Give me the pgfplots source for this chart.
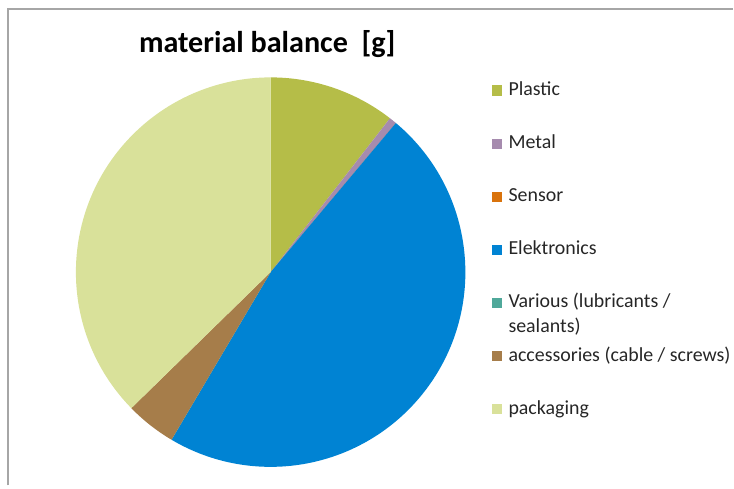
\documentclass[border=0pt]{standalone}
\usepackage{pgfplots}
\pgfplotsset{compat=1.18}
\usepackage{pgfplotstable}
\usepackage{fontspec}
\setmainfont{Carlito}
\definecolor{cPlastic}{RGB}{181,189,72}
\definecolor{cMetal}{RGB}{166,139,174}
\definecolor{cSensor}{RGB}{217,115,13}
\definecolor{cElek}{RGB}{0,131,211}
\definecolor{cVarious}{RGB}{79,168,154}
\definecolor{cAcc}{RGB}{166,125,74}
\definecolor{cPack}{RGB}{217,225,154}
\definecolor{cFrame}{RGB}{166,166,166}
\definecolor{cText}{RGB}{38,38,38}

% share of each material in percent
\pgfplotstableread[col sep=comma]{
name,value,color
Plastic,10.50,cPlastic
Metal,0.62,cMetal
Sensor,0.00,cSensor
Elektronics,47.38,cElek
Various,0.00,cVarious
accessories,4.19,cAcc
packaging,37.31,cPack
}\piedata

\tikzset{lg/.style={anchor=base west, inner sep=0pt, text=cText, font=\fontsize{20}{24.6}\selectfont}}

\begin{document}
\begin{tikzpicture}
\def\cum{0}
\pgfplotsforeachungrouped \i in {0,...,6}{%
  \pgfplotstablegetelem{\i}{value}\of\piedata
  \let\v\pgfplotsretval
  \pgfmathsetmacro\sa{90-3.6*\cum}%
  \pgfmathsetmacro\cum{\cum+\v}%
  \pgfmathsetmacro\ea{90-3.6*\cum}%
  \expandafter\xdef\csname sa\i\endcsname{\sa}%
  \expandafter\xdef\csname ea\i\endcsname{\ea}%
  \pgfplotstablegetelem{\i}{color}\of\piedata
  \expandafter\xdef\csname col\i\endcsname{\pgfplotsretval}%
}
\begin{axis}[
  width=734bp, height=486bp, scale only axis,
  xmin=0, xmax=734, ymin=0, ymax=486,
  hide axis, clip=false,
]
\path (rel axis cs:0,0) rectangle (rel axis cs:1,1);
\draw[cFrame, line width=2bp] (axis cs:7.7,0) -- (axis cs:7.7,477) -- (axis cs:734,477);
\pgfplotsinvokeforeach{0,1,2,3,4,5,6}{
  \fill[fill=\csname col#1\endcsname] (axis cs:271,213.5) -- ([shift={(\csname sa#1\endcsname:195bp)}]axis cs:271,213.5)
     arc[start angle=\csname sa#1\endcsname, end angle=\csname ea#1\endcsname, radius=195bp] -- cycle;
}
\node[anchor=base west, font=\fontsize{30.3}{32}\selectfont\bfseries, text=black, inner sep=0pt] at (axis cs:139,433) {material balance\ \ [g]};
% legend
\pgfplotsinvokeforeach{0,1,2,3,4,5,6}{
  \fill[fill=\csname col#1\endcsname] (axis cs:492.5,{486-90.8-53.15*#1-5.2}) rectangle (axis cs:502.5,{486-90.8-53.15*#1+5.2});
}
\node[lg] at (axis cs:509,{486-95.8}) {Plastic};
\node[lg] at (axis cs:509,{486-95.8-53.15}) {Metal};
\node[lg] at (axis cs:509,{486-95.8-2*53.15}) {Sensor};
\node[lg] at (axis cs:509,{486-95.8-3*53.15}) {Elektronics};
\node[lg] at (axis cs:509,{486-95.8-4*53.15}) {Various (lubricants /};
\node[lg] at (axis cs:509,{486-95.8-4*53.15-24.6}) {sealants)};
\node[lg] at (axis cs:509,{486-95.8-5*53.15}) {accessories (cable / screws)};
\node[lg] at (axis cs:509,{486-95.8-6*53.15}) {packaging};
\end{axis}
\end{tikzpicture}
\end{document}
